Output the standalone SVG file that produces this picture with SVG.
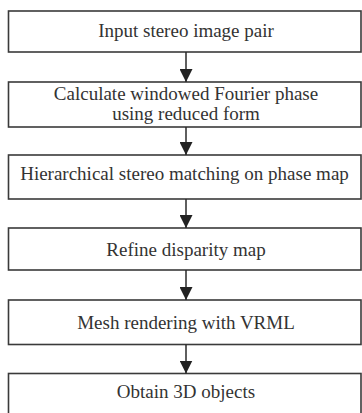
<svg xmlns="http://www.w3.org/2000/svg" width="362" height="413" viewBox="0 0 362 413">
<defs>
<style>
.box{fill:#fff;stroke:#3a3a3a;stroke-width:1.6}
.t{font-family:"Liberation Serif","Times New Roman",serif;font-size:19px;fill:#333;text-anchor:middle}
.c{stroke:#2a2a2a;stroke-width:1.5;fill:none}
</style>
<marker id="ah" viewBox="0 0 13 13" refX="13" refY="6.5" markerWidth="13" markerHeight="13" markerUnits="userSpaceOnUse" orient="auto">
<path d="M0,0 L13,6.5 L0,13 Z" fill="#222"/>
</marker>
</defs>
<rect width="362" height="413" fill="#fff"/>
<g id="n1"><rect class="box" x="8.5" y="11" width="352.5" height="41"/><text class="t" x="186" y="37">Input stereo image pair</text></g>
<g id="n2"><rect class="box" x="8.5" y="82" width="352.5" height="45"/><text class="t" x="186" y="100">Calculate windowed Fourier phase</text><text class="t" x="186" y="119.5">using reduced form</text></g>
<g id="n3"><rect class="box" x="8.5" y="155" width="352.5" height="44"/><text class="t" x="184.5" y="180">Hierarchical stereo matching on phase map</text></g>
<g id="n4"><rect class="box" x="8.5" y="228" width="352.5" height="42"/><text class="t" x="186" y="255.5">Refine disparity map</text></g>
<g id="n5"><rect class="box" x="8.5" y="300" width="352.5" height="44.5"/><text class="t" x="186" y="329">Mesh rendering with VRML</text></g>
<g id="n6"><rect class="box" x="8.5" y="373.5" width="352.5" height="45"/><text class="t" x="186" y="397.5">Obtain 3D objects</text></g>
<g id="connectors">
<line class="c" x1="186" y1="52" x2="186" y2="82" marker-end="url(#ah)"/>
<line class="c" x1="186" y1="127" x2="186" y2="155" marker-end="url(#ah)"/>
<line class="c" x1="186" y1="199" x2="186" y2="228" marker-end="url(#ah)"/>
<line class="c" x1="186" y1="270" x2="186" y2="300" marker-end="url(#ah)"/>
<line class="c" x1="186" y1="344.5" x2="186" y2="373.5" marker-end="url(#ah)"/>
</g>
</svg>
